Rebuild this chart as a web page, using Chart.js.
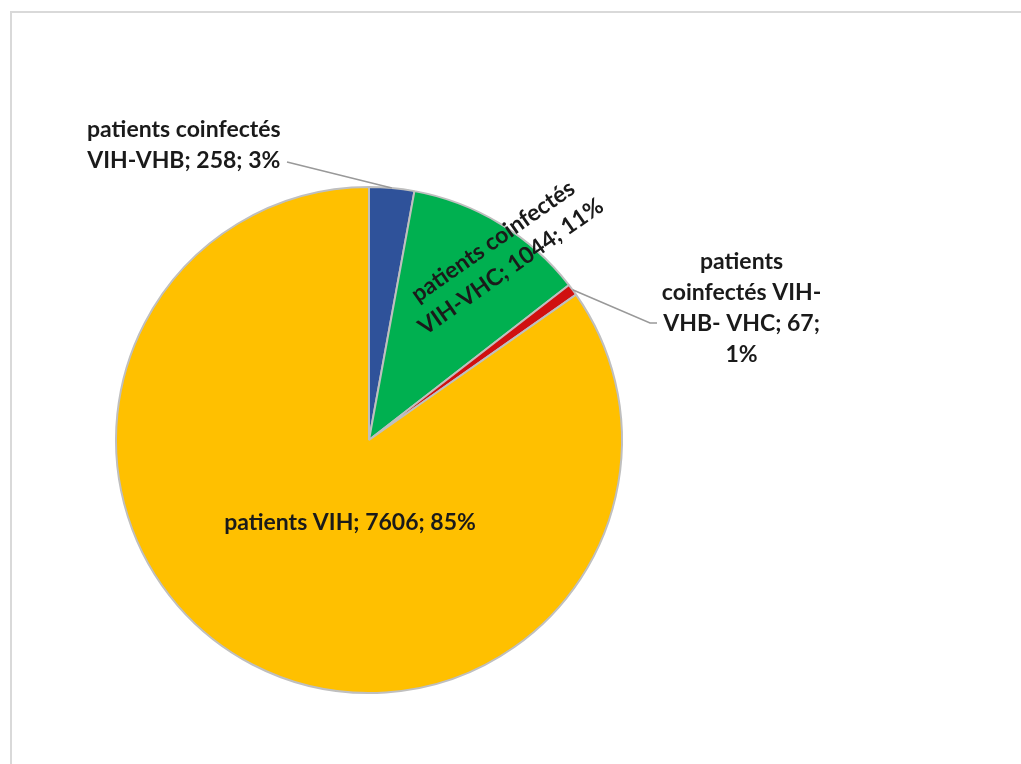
<!DOCTYPE html>
<html>
<head>
<meta charset="utf-8">
<script src="https://cdn.jsdelivr.net/npm/chart.js@4.4.1/dist/chart.umd.min.js"></script>
<style>
  html, body { margin: 0; padding: 0; background: #fff; }
  #cadre { position: absolute; left: 10px; top: 11px; width: 1030px; height: 780px; border: 2px solid #d9d9d9; box-sizing: border-box; }
  #zone { position: absolute; left: 0; top: 0; width: 1021px; height: 764px; }
</style>
</head>
<body>
<div id="cadre"></div>
<div id="zone"><canvas id="camembert" width="1021" height="764"></canvas></div>
<script>
// --- données ---
const categories = ['patients coinfectés VIH-VHB', 'patients coinfectés VIH-VHC', 'patients coinfectés VIH-VHB- VHC', 'patients VIH'];
const effectifs = [258, 1044, 67, 7606];
const pourcentages = ['3%', '11%', '1%', '85%'];
const couleurs = ['#2F529A', '#00B050', '#D01010', '#FFC000'];

// lignes des étiquettes (texte découpé comme dans l'original)
const lignesEtiquettes = [
    ['patients coinfectés', 'VIH-VHB; ' + effectifs[0] + '; ' + pourcentages[0]],
    ['patients coinfectés', 'VIH-VHC; ' + effectifs[1] + '; ' + pourcentages[1]],
    ['patients', 'coinfectés VIH-', 'VHB- VHC; ' + effectifs[2] + ';', pourcentages[2]],
    ['patients VIH; ' + effectifs[3] + '; ' + pourcentages[3]]
];

// placement des étiquettes (mise en forme seulement)
const placement = [
    { type: 'dehors', dx: -208, dy: -43, finX: 287, finY: 162 },
    { type: 'dedans', dx: 133, dy: -186, rot: -35 },
    { type: 'dehors', dx: 169, dy: 18, coudeX: 650, coudeY: 323, finX: 657 },
    { type: 'dedans', dx: -19, dy: 83, rot: 0 }
];

const POLICE = 'bold 23px Lato, "Open Sans", sans-serif';
const INTERLIGNE = 31;

const pluginEtiquettes = {
    id: 'etiquettes',
    afterDatasetsDraw(chart) {
        const ctx = chart.ctx;
        const arcs = chart.getDatasetMeta(0).data;
        ctx.save();
        ctx.font = POLICE;
        ctx.fillStyle = '#1a1a1a';
        ctx.textAlign = 'center';
        ctx.textBaseline = 'middle';
        arcs.forEach((arc, i) => {
            const p = placement[i];
            const lignes = lignesEtiquettes[i];
            const mid = (arc.startAngle + arc.endAngle) / 2;
            const bordX = arc.x + Math.cos(mid) * arc.outerRadius;
            const bordY = arc.y + Math.sin(mid) * arc.outerRadius;
            let cx, cy;
            if (p.type === 'dehors') {
                cx = bordX + p.dx; cy = bordY + p.dy;
                ctx.strokeStyle = '#999999';
                ctx.lineWidth = 1.5;
                ctx.beginPath();
                ctx.moveTo(bordX, bordY);
                if (p.coudeX) {
                    ctx.lineTo(p.coudeX, p.coudeY);
                    ctx.lineTo(p.finX, p.coudeY);
                } else {
                    ctx.lineTo(p.finX, p.finY);
                }
                ctx.stroke();
            } else {
                cx = arc.x + p.dx; cy = arc.y + p.dy;
            }
            ctx.save();
            ctx.translate(cx, cy);
            ctx.rotate((p.rot || 0) * Math.PI / 180);
            const h0 = -(lignes.length - 1) * INTERLIGNE / 2;
            lignes.forEach((l, k) => ctx.fillText(l, 0, h0 + k * INTERLIGNE));
            ctx.restore();
        });
        ctx.restore();
    }
};

new Chart(document.getElementById('camembert'), {
    type: 'pie',
    data: {
        labels: categories,
        datasets: [{
            data: effectifs,
            backgroundColor: couleurs,
            borderColor: '#bfbfbf',
            borderWidth: 2
        }]
    },
    options: {
        responsive: false,
        animation: false,
        layout: { padding: { left: 115, right: 398, top: 186, bottom: 70 } },
        plugins: {
            legend: { display: false },
            tooltip: { enabled: false }
        }
    },
    plugins: [pluginEtiquettes]
});
</script>
</body>
</html>
